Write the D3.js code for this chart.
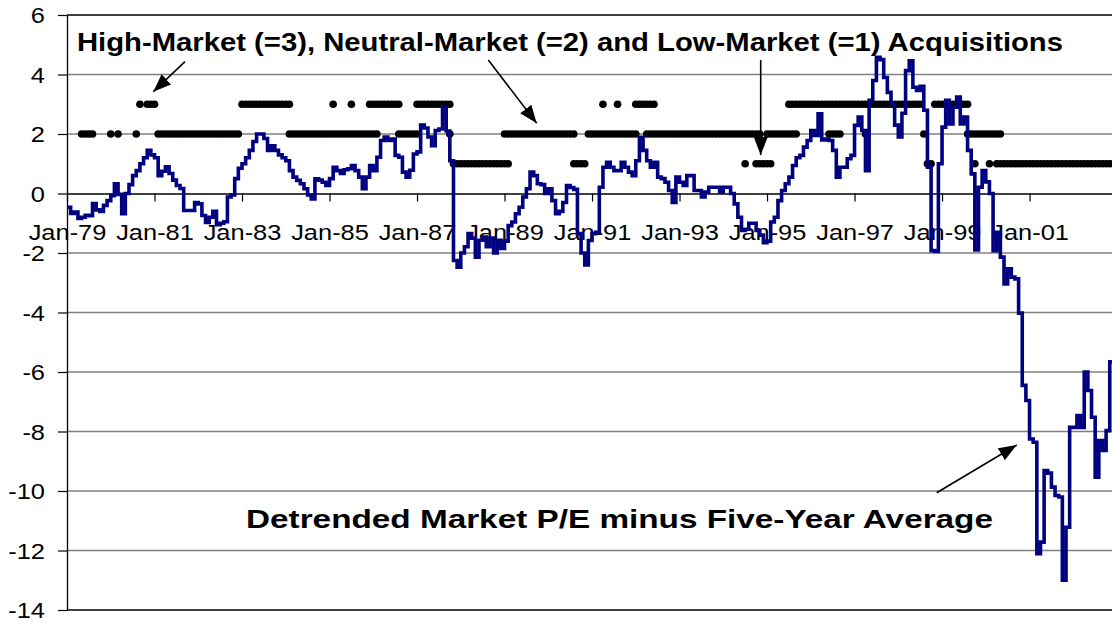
<!DOCTYPE html>
<html><head><meta charset="utf-8">
<script src="https://cdn.jsdelivr.net/npm/d3@7"></script>
<style>body{margin:0;background:#fff}</style>
</head><body><svg id="c" width="1112" height="627"></svg>
<script>
// ---- data ----
const firstMonth = "Jan-79"; // index 0, monthly through Dec-02 (index 287)
const tickLabels = ["Jan-79","Jan-81","Jan-83","Jan-85","Jan-87","Jan-89","Jan-91","Jan-93","Jan-95","Jan-97","Jan-99","Jan-01"];
const tickIndex = [0,24,48,72,96,120,144,168,192,216,240,264];
const yTicks = [-14,-12,-10,-8,-6,-4,-2,0,2,4,6];

// Detrended Market P/E minus Five-Year Average (monthly, Jan-79 .. Dec-02)
const peMinusAvg = [
 -0.46,-0.67,-0.62,-0.84,-0.80,-0.73,-0.75,-0.34,-0.55,-0.60,-0.40,-0.24,
 -0.07,0.33,-0.03,-0.68,0.00,0.30,0.60,0.77,1.00,1.20,1.45,1.30,
 1.20,0.60,0.75,0.90,0.67,0.45,0.27,0.17,-0.57,-0.57,-0.57,-0.30,
 -0.35,-0.74,-0.97,-0.80,-0.60,-1.05,-1.00,-0.95,-0.12,-0.05,0.50,0.85,
 1.00,1.20,1.45,1.75,2.00,2.00,1.85,1.45,1.60,1.45,1.30,1.20,
 1.10,0.77,0.55,0.44,0.33,0.16,-0.05,-0.18,0.49,0.45,0.38,0.27,
 0.50,0.88,0.77,0.67,0.80,0.83,0.94,0.77,0.55,0.16,0.55,0.94,
 0.77,1.22,1.78,1.90,1.78,1.83,1.28,1.22,0.72,0.55,0.78,1.33,
 1.40,2.30,2.20,1.90,1.61,2.12,2.17,2.90,2.10,1.10,-2.25,-2.48,
 -2.00,-1.79,-1.35,-1.50,-2.14,-1.57,-1.46,-1.79,-1.50,-2.00,-1.57,-1.85,
 -1.60,-1.08,-0.96,-0.68,-0.46,-0.12,0.16,0.72,0.60,0.33,0.30,0.00,
 0.16,-0.24,-0.68,-0.60,-0.30,0.27,0.20,0.14,-1.35,-2.00,-2.40,-1.58,
 -1.35,-1.30,0.21,0.88,1.05,0.88,0.77,0.77,1.05,0.88,0.72,0.60,
 1.10,1.89,1.45,1.10,0.88,1.05,0.55,0.50,0.38,0.10,-0.30,0.55,
 0.38,0.27,0.60,0.60,0.10,0.10,-0.12,0.05,0.21,0.21,0.21,0.05,
 0.21,0.21,0.00,-0.35,-0.80,-1.24,-1.20,-1.00,-1.00,-1.24,-1.40,-1.65,
 -1.60,-0.96,-0.80,-0.24,0.10,0.33,0.55,0.94,1.20,1.28,1.56,1.78,
 2.12,1.95,2.68,1.80,1.83,1.78,1.45,0.55,0.88,0.88,1.17,1.28,
 2.29,2.57,2.12,0.77,3.13,3.80,4.58,4.50,3.90,3.40,3.00,2.30,
 1.90,2.70,4.13,4.46,3.57,3.46,3.60,2.80,0.88,-1.92,-1.95,1.00,
 2.23,3.13,2.34,2.90,3.24,2.34,2.57,1.45,0.66,-1.90,0.21,0.77,
 0.39,0.00,-1.92,-1.30,-2.14,-3.04,-2.53,-2.81,-2.87,-4.02,-6.45,-6.96,
 -8.25,-8.36,-12.11,-11.72,-9.31,-9.40,-9.87,-10.15,-10.20,-13.00,-11.22,-7.86,
 -7.86,-7.46,-7.86,-6.00,-6.62,-7.52,-9.54,-8.30,-8.64,-7.97,-5.66,-5.66
];

// Months (index from Jan-79) with acquisitions of each type
const highMarket = [20,22,23,24,
 48,49,50,51,52,53,54,55,56,57,58,59,60,61,
 73,78,
 83,84,85,86,87,88,89,90,91,
 96,97,98,99,100,101,102,103,104,105,
 147,151,
 156,157,158,159,160,161,
 198,199,200,201,202,203,204,205,206,207,208,209,210,211,212,213,214,215,216,217,218,219,220,221,222,223,224,225,226,227,228,229,230,231,232,233,234,
 238,239,240,241,242,243,244,245,246,247];
const neutralMarket = [4,5,6,7,12,14,19,
 25,26,27,28,29,30,31,32,33,34,35,36,37,38,39,40,41,42,43,44,45,46,47,
 61,62,63,64,65,66,67,68,69,70,71,72,73,74,75,76,77,78,79,80,81,82,83,84,85,
 91,92,93,94,95,96,105,
 120,121,122,123,124,125,126,127,128,129,130,131,132,133,134,135,136,137,138,139,
 143,144,145,146,147,148,149,150,151,152,153,154,155,156,
 159,160,161,162,163,164,165,166,167,168,169,170,171,172,173,174,175,176,177,178,179,180,181,182,183,184,185,186,187,188,189,190,
 192,193,194,195,196,197,198,199,200,
 209,210,211,212,219,235,
 247,248,249,250,251,252,253,254,255,256];
const lowMarket = [106,107,108,109,110,111,112,113,114,115,116,117,118,119,120,121,
 139,140,141,142,186,189,190,191,192,193,236,237,249,253,
 255,256,257,258,259,260,261,262,263,264,265,266,267,268,269,270,271,272,273,274,275,276,277,278,279,280,281,282,283,284,285,286,287];
const levels = [{value:3, months:highMarket},{value:2, months:neutralMarket},{value:1, months:lowMarket}];

const annoText1 = "High-Market (=3), Neutral-Market (=2) and Low-Market (=1) Acquisitions";
const annoText2 = "Detrended Market P/E minus Five-Year Average";

// ---- drawing ----
const W = 1112, H = 627;
const FONT = "'Liberation Sans', Arial, sans-serif";
const SX = 1.13; // horizontal stretch of the original picture's text
const x = d3.scaleLinear().domain([0, peMinusAvg.length - 1]).range([67, 67 + 287 * 3.646]);
const y = d3.scaleLinear().domain([-14, 6]).range([610, 15]);

const svg = d3.select("#c");
svg.append("rect").attr("width", W).attr("height", H).attr("fill", "#fff");

const defs = svg.append("defs");
defs.append("marker").attr("id", "ah").attr("viewBox", "0 0 18 14")
  .attr("refX", 18).attr("refY", 7).attr("markerWidth", 18).attr("markerHeight", 14)
  .attr("markerUnits", "userSpaceOnUse").attr("orient", "auto")
  .append("path").attr("d", "M0,0 L18,7 L0,14 Z").attr("fill", "#000");

// gridlines
svg.append("g").selectAll("line").data(yTicks.filter(v => v !== 0)).join("line")
  .attr("x1", x(0)).attr("x2", W)
  .attr("y1", d => y(d)).attr("y2", d => y(d))
  .attr("stroke", d => (d === 6 || d === -14) ? "#000" : "#808080")
  .attr("stroke-width", 1.3);

// y axis
const gy = svg.append("g").attr("transform", `translate(${x(0)},0)`)
  .call(d3.axisLeft(y).tickValues(yTicks).tickSize(9).tickSizeOuter(0).tickFormat(d => String(d)));
gy.select(".domain").attr("stroke", "#000").attr("stroke-width", 1.3);
gy.selectAll(".tick line").attr("stroke", "#000").attr("stroke-width", 1.2);
gy.selectAll("text").attr("font-family", FONT).attr("font-size", 22.5).attr("fill", "#000")
  .attr("x", -22 / SX).attr("dy", "0.35em").attr("transform", `scale(${SX},1)`);

// x axis at y = 0
const gx = svg.append("g").attr("transform", `translate(0,${y(0)})`)
  .call(d3.axisBottom(x).tickValues(tickIndex).tickSize(8).tickSizeOuter(0)
    .tickFormat((d, i) => tickLabels[i]));
gx.select(".domain").attr("stroke", "#000").attr("stroke-width", 1.3);
gx.selectAll(".tick line").attr("stroke", "#000").attr("stroke-width", 1.2);
gx.selectAll("text").attr("font-family", FONT).attr("font-size", 22.5).attr("fill", "#000")
  .attr("y", 47).attr("dy", 0).attr("transform", `scale(${SX},1)`);

// acquisition dots
const dots = [];
levels.forEach(l => l.months.forEach(m => dots.push({m, v: l.value})));
svg.append("g").selectAll("circle").data(dots).join("circle")
  .attr("cx", d => x(d.m)).attr("cy", d => y(d.v)).attr("r", 3.8).attr("fill", "#000");

// P/E line
svg.append("path").datum(peMinusAvg)
  .attr("d", d3.line().x((d, i) => x(i)).y(d => y(d)).curve(d3.curveStepAfter))
  .attr("fill", "none").attr("stroke", "#000080").attr("stroke-width", 3.6)
  .attr("stroke-linejoin", "miter");

// annotations
svg.append("text").attr("x", 77).attr("y", 51).text(annoText1)
  .attr("font-family", FONT).attr("font-weight", "bold").attr("font-size", 26.5)
  .attr("textLength", 986).attr("lengthAdjust", "spacingAndGlyphs");
svg.append("text").attr("x", 246).attr("y", 528).text(annoText2)
  .attr("font-family", FONT).attr("font-weight", "bold").attr("font-size", 26.5)
  .attr("textLength", 747).attr("lengthAdjust", "spacingAndGlyphs");

const arrows = [
  [185, 61.7, 153.3, 91.7],
  [488.3, 60, 536.7, 123.3],
  [760.7, 60, 760.7, 155],
  [936.7, 492.7, 1016.7, 445]
];
svg.append("g").selectAll("line").data(arrows).join("line")
  .attr("x1", d => d[0]).attr("y1", d => d[1]).attr("x2", d => d[2]).attr("y2", d => d[3])
  .attr("stroke", "#000").attr("stroke-width", 1.6).attr("marker-end", "url(#ah)");
</script></body></html>
